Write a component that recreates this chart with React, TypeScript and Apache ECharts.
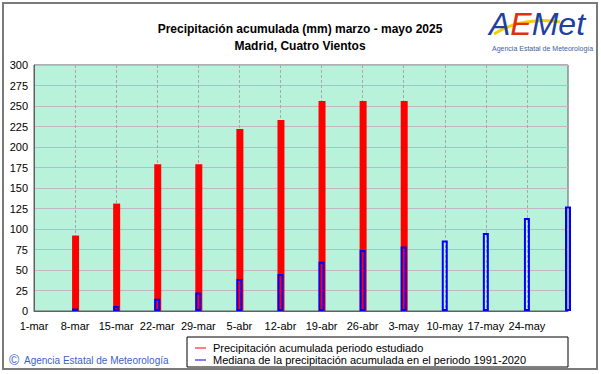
import React, { useEffect, useRef } from "react";
import * as echarts from "echarts";

const categories = ["1-mar", "8-mar", "15-mar", "22-mar", "29-mar", "5-abr", "12-abr", "19-abr", "26-abr", "3-may", "10-may", "17-may", "24-may", "31-may"];
const observed = [null, 92, 131, 179, 179, 222, 233, 256, 256, 256, null, null, null, null];
const median = [null, 3, 6, 15, 22.5, 39, 45, 60, 74.5, 78.6, 86, 95, 113.5, 127.5];
const yTicks = { min: 0, max: 300, interval: 25 };
const titleLines = ["Precipitación acumulada (mm) marzo - mayo 2025", "Madrid, Cuatro Vientos"];
const seriesNames = ["Precipitación acumulada periodo estudiado", "Mediana de la precipitación acumulada en el periodo 1991-2020"];
const seriesColors = ["#ff0000", "#0000ff"];

const FONT = "'Liberation Sans', Arial, sans-serif";

export default function App() {
  const ref = useRef<HTMLDivElement>(null);
  useEffect(() => {
    const chart = echarts.init(ref.current!, null, { renderer: "svg" });
    const legendGraphics: any[] = [];
    seriesNames.forEach((name, i) => {
      const y = 348 + i * 12;
      legendGraphics.push({
        type: "line",
        shape: { x1: 195, y1: y, x2: 206, y2: y },
        style: { stroke: seriesColors[i], lineWidth: 1 },
        silent: true,
      });
      legendGraphics.push({
        type: "text",
        x: 213,
        y: y,
        style: { text: name, fontSize: 11, fill: "#000", fontFamily: FONT, verticalAlign: "middle" },
        silent: true,
      });
    });
    chart.setOption({
      animation: false,
      backgroundColor: "#ffffff",
      textStyle: { fontFamily: FONT },
      title: {
        text: titleLines.join("\n"),
        left: 295,
        top: 15,
        textAlign: "center",
        textStyle: { fontSize: 12, fontWeight: "bold", color: "#000", lineHeight: 17, fontFamily: FONT },
      },
      grid: {
        left: 34,
        right: 33,
        top: 65,
        bottom: 63,
        show: true,
        backgroundColor: "#b8f2da",
        borderColor: "#606060",
        borderWidth: 1,
      },
      xAxis: {
        type: "category",
        data: categories,
        boundaryGap: false,
        axisLine: { lineStyle: { color: "#606060", width: 1 } },
        axisTick: { show: false },
        axisLabel: {
          interval: 0,
          fontSize: 11,
          color: "#000",
          margin: 9,
          fontFamily: FONT,
          formatter: (v: string, i: number) => (i === categories.length - 1 ? "" : v),
        },
        splitLine: { show: true, lineStyle: { color: "#a8a8a8", type: [3, 2], width: 1 } },
      },
      yAxis: {
        type: "value",
        min: yTicks.min,
        max: yTicks.max,
        interval: yTicks.interval,
        axisLine: { show: true, lineStyle: { color: "#606060", width: 1 } },
        axisTick: { show: false },
        axisLabel: { fontSize: 11, color: "#000", margin: 6, fontFamily: FONT },
        splitLine: { show: true, lineStyle: { color: "#c4b4c8", width: 1 } },
      },
      series: [
        {
          name: seriesNames[0],
          type: "bar",
          data: observed,
          barWidth: 7,
          barGap: "-100%",
          clip: false,
          itemStyle: { color: seriesColors[0] },
          z: 2,
        },
        {
          name: seriesNames[1],
          type: "bar",
          data: median,
          barWidth: 6,
          barGap: "-100%",
          clip: false,
          itemStyle: { color: "rgba(0,0,0,0)", borderColor: seriesColors[1], borderWidth: 2 },
          z: 3,
        },
      ],
      graphic: [
        {
          type: "rect",
          shape: { x: 3, y: 3, width: 594, height: 366 },
          style: { fill: "none", stroke: "#7a7a7a", lineWidth: 2 },
          silent: true,
        },
        {
          type: "rect",
          shape: { x: 187, y: 337, width: 381, height: 30 },
          style: { fill: "none", stroke: "#000", lineWidth: 1 },
          silent: true,
        },
        ...legendGraphics,
        {
          type: "text",
          x: 9,
          y: 353,
          style: { text: "©", fontSize: 14, fill: "#3a5fd0", fontFamily: FONT },
        },
        {
          type: "text",
          x: 24,
          y: 355,
          style: { text: "Agencia Estatal de Meteorología", fontSize: 10, fill: "#3a5fd0", fontFamily: FONT },
        },
        {
          type: "bezierCurve",
          shape: { x1: 494, y1: 34, cpx1: 512, cpy1: 22, cpx2: 540, cpy2: 18, x2: 560, y2: 22 },
          style: { stroke: "#f5d000", lineWidth: 3, fill: "none" },
        },
        {
          type: "text",
          x: 489,
          y: 8,
          style: {
            text: "{a|A}{e|E}{m|Met}",
            rich: {
              a: { fontSize: 32, fill: "#2040a0", fontStyle: "italic", fontFamily: FONT },
              e: { fontSize: 32, fill: "#e03010", fontStyle: "italic", fontFamily: FONT },
              m: { fontSize: 32, fill: "#2040a0", fontStyle: "italic", fontFamily: FONT },
            },
          },
        },
        {
          type: "text",
          x: 492,
          y: 45,
          style: { text: "Agencia Estatal de Meteorología", fontSize: 7, fill: "#4060a0", fontFamily: FONT },
        },
      ],
    });
    return () => chart.dispose();
  }, []);
  return <div ref={ref} style={{ position: "fixed", left: 0, top: 0, width: 601, height: 374 }} />;
}
